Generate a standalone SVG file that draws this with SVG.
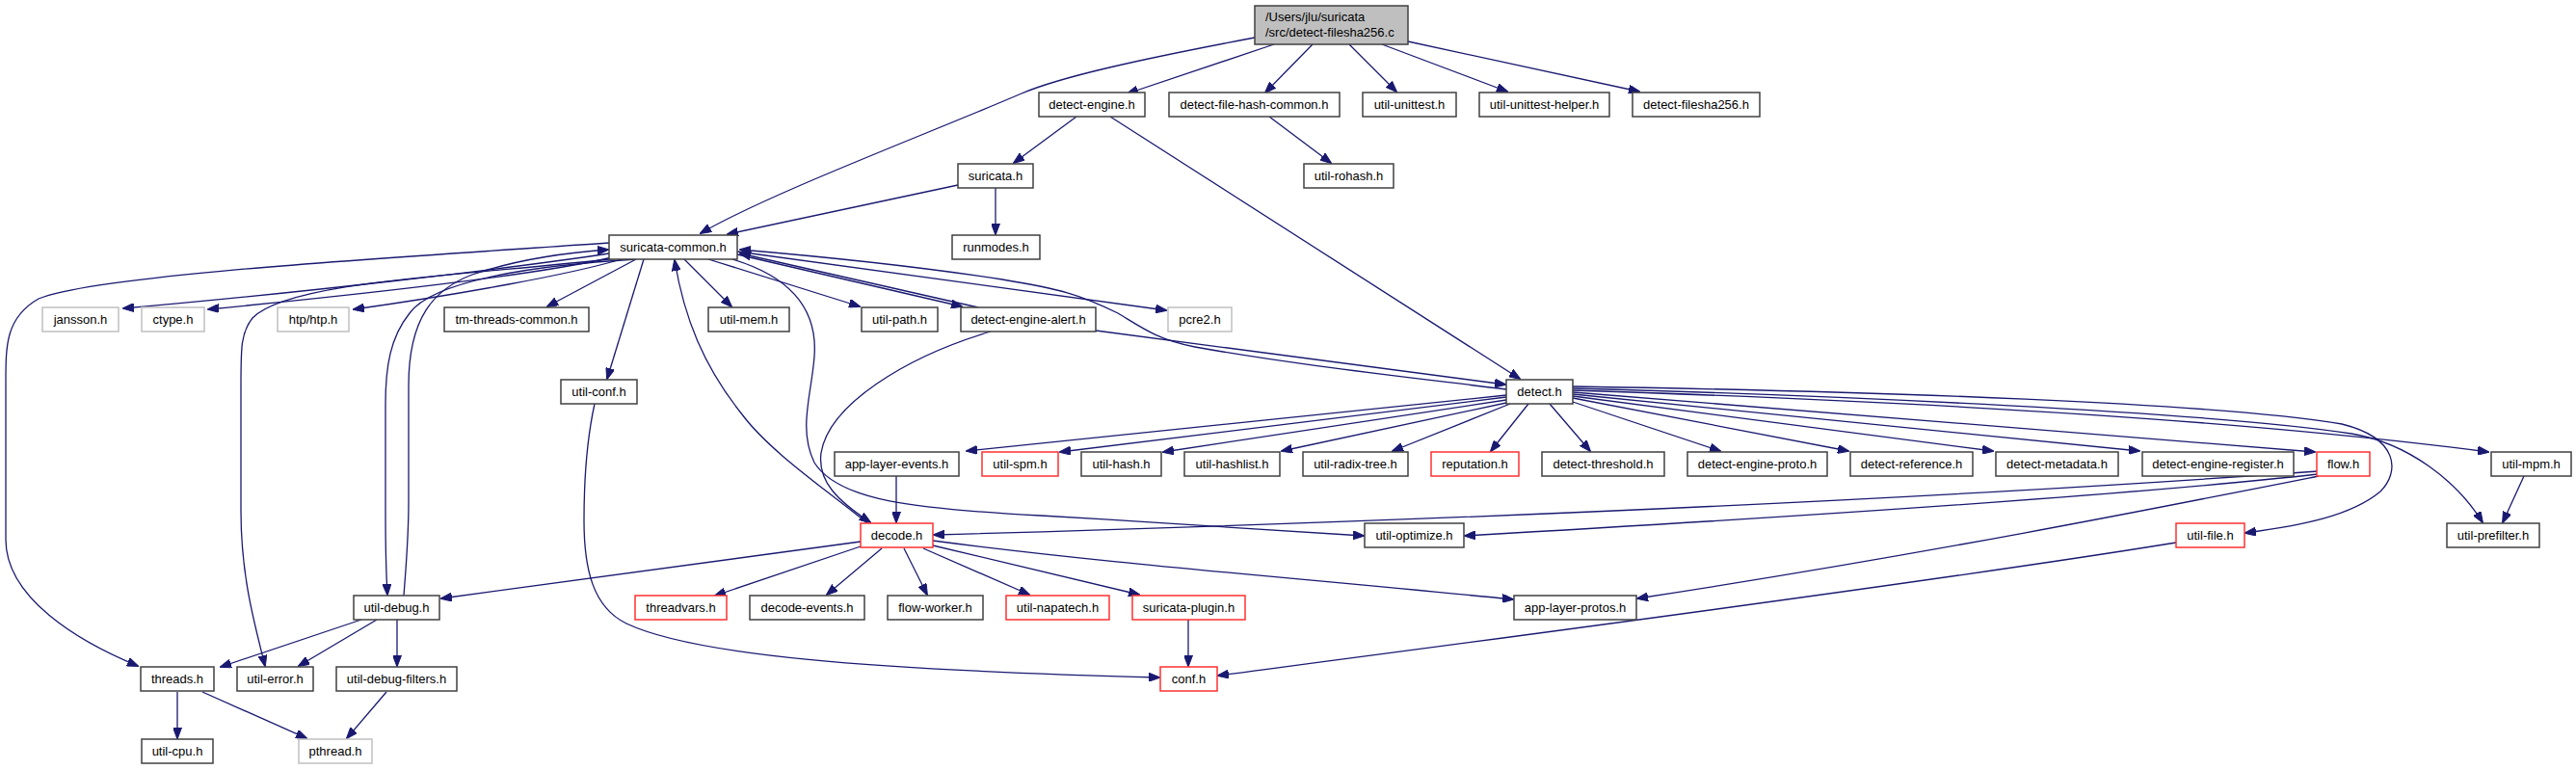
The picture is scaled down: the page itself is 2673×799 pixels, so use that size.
<svg xmlns="http://www.w3.org/2000/svg" width="2673" height="799" viewBox="0 0 2673 799">
<style>
.n rect{fill:#fff;stroke:#404040;stroke-width:1.5}
.n.r rect{stroke:#ff3030}
.n.g rect{stroke:#c0c0c0}
.n.root rect{fill:#bfbfbf}
text{font-family:"Liberation Sans",Arial,sans-serif;font-size:13px;fill:#000}
.n text{text-anchor:middle}
.n.root text{text-anchor:start}
#edges path{fill:none;stroke:#191970;stroke-width:1.3;marker-end:url(#ah)}
</style>
<defs>
<marker id="ah" markerUnits="userSpaceOnUse" viewBox="0 0 12 9" refX="11" refY="4.5" markerWidth="12" markerHeight="9" orient="auto">
<path d="M0,0 L12,4.5 L0,9 z" fill="#191970" stroke="#191970" stroke-width="1"/>
</marker>
</defs>
<rect width="2673" height="799" fill="#fff"/>
<g id="edges">
<path d="M1302,39 C1180,62 1100,80 1060,97 C960,140 800,200 727,242"/>
<path d="M1322,46 L1170,97"/>
<path d="M1362,46 L1313,96"/>
<path d="M1400,46 L1449,95"/>
<path d="M1434,46 L1564,95"/>
<path d="M1461,43 L1701,95"/>
<path d="M1117,121 L1052,169"/>
<path d="M1152,121 L1577,393"/>
<path d="M1317,121 L1381,169"/>
<path d="M994,192 L755,243"/>
<path d="M1033,195 L1033,243"/>
<path d="M632,263 C520,280 300,305 128,320"/>
<path d="M635,267 C560,285 380,305 216,321"/>
<path d="M645,269 C590,285 480,305 367,321"/>
<path d="M660,269 L568,318"/>
<path d="M668,269 L630,393"/>
<path d="M710,269 L759,318"/>
<path d="M735,269 L892,318"/>
<path d="M765,264 L998,318"/>
<path d="M1015,319 L768,263"/>
<path d="M765,261 L1210,322"/>
<path d="M1563,404 C1450,390 1340,378 1240,360 C1200,352 1185,340 1160,325 C1120,305 1100,300 1040,290 C950,276 850,266 768,259"/>
<path d="M632,252 C400,268 100,285 40,310 C5,330 6,360 6,400 L6,560 C6,620 80,665 143,691"/>
<path d="M640,268 C500,285 300,290 262,330 C250,345 250,360 250,400 L250,530 C250,600 265,650 275,691"/>
<path d="M660,269 C560,275 450,290 425,325 C405,350 400,380 400,420 L400,530 C400,580 401,600 402,617"/>
<path d="M419,618 C421,590 424,560 424,520 L424,400 C424,330 450,300 490,285 C540,268 590,262 631,259"/>
<path d="M760,269 C830,290 848,330 845,370 C842,410 828,445 845,480 C870,520 950,528 1080,535 C1200,542 1330,550 1415,556"/>
<path d="M900,543 C860,510 800,470 770,430 C730,380 710,330 700,270"/>
<path d="M1137,343 C1300,365 1450,385 1562,399"/>
<path d="M1028,344 C940,370 860,420 852,470 C848,500 870,520 903,542"/>
<path d="M930,494 L930,542"/>
<path d="M1563,410 L1003,468"/>
<path d="M1563,412 L1100,469"/>
<path d="M1563,415 L1207,469"/>
<path d="M1563,418 L1330,468"/>
<path d="M1567,419 L1445,468"/>
<path d="M1586,419 L1547,468"/>
<path d="M1608,419 L1650,468"/>
<path d="M1632,417 L1785,468"/>
<path d="M1632,413 L1918,468"/>
<path d="M1632,411 L2068,468"/>
<path d="M1632,409 L2220,468"/>
<path d="M1632,407 L2402,469"/>
<path d="M1632,405 C2100,420 2400,445 2582,469"/>
<path d="M1632,403 C1900,410 2300,428 2440,450 C2500,460 2550,500 2576,542"/>
<path d="M1632,401 C1950,406 2300,418 2430,440 C2490,455 2490,490 2470,510 C2440,535 2390,545 2330,553"/>
<path d="M2405,489 C2000,518 1500,540 969,555"/>
<path d="M2405,492 C2200,515 1800,540 1520,556"/>
<path d="M2406,494 C2250,525 2000,575 1699,621"/>
<path d="M2619,494 L2597,542"/>
<path d="M2258,563 C2000,605 1500,670 1264,701"/>
<path d="M893,562 L458,621"/>
<path d="M893,567 L742,618"/>
<path d="M915,569 L858,617"/>
<path d="M938,569 L962,617"/>
<path d="M958,569 L1068,617"/>
<path d="M968,566 L1182,617"/>
<path d="M968,561 C1150,585 1350,600 1570,622"/>
<path d="M1233,643 L1233,691"/>
<path d="M617,419 C608,460 606,500 606,540 C606,590 615,630 650,647 C720,680 900,695 1203,703"/>
<path d="M375,643 L229,692"/>
<path d="M391,643 L310,691"/>
<path d="M412,643 L412,691"/>
<path d="M184,718 L184,766"/>
<path d="M210,718 L318,766"/>
<path d="M401,718 L360,766"/>
</g>
<g id="n_root" class="n root"><rect x="1302" y="6" width="159" height="40"/><text x="1313" y="22">/Users/jlu/suricata</text><text x="1313" y="38">/src/detect-filesha256.c</text></g>
<g id="n_detect_engine" class="n"><rect x="1078" y="96" width="110" height="25"/><text x="1133" y="113">detect-engine.h</text></g>
<g id="n_dfhc" class="n"><rect x="1213" y="96" width="177" height="25"/><text x="1301.5" y="113">detect-file-hash-common.h</text></g>
<g id="n_util_unittest" class="n"><rect x="1414" y="96" width="97" height="25"/><text x="1462.5" y="113">util-unittest.h</text></g>
<g id="n_util_unittest_helper" class="n"><rect x="1535" y="96" width="135" height="25"/><text x="1602.5" y="113">util-unittest-helper.h</text></g>
<g id="n_detect_filesha256" class="n"><rect x="1694" y="96" width="132" height="25"/><text x="1760" y="113">detect-filesha256.h</text></g>
<g id="n_suricata" class="n"><rect x="994" y="170" width="78" height="25"/><text x="1033" y="187">suricata.h</text></g>
<g id="n_util_rohash" class="n"><rect x="1353" y="170" width="93" height="25"/><text x="1399.5" y="187">util-rohash.h</text></g>
<g id="n_suricata_common" class="n"><rect x="632" y="244" width="133" height="25"/><text x="698.5" y="261">suricata-common.h</text></g>
<g id="n_runmodes" class="n"><rect x="988" y="244" width="91" height="25"/><text x="1033.5" y="261">runmodes.h</text></g>
<g id="n_jansson" class="n g"><rect x="44" y="319" width="79" height="25"/><text x="83.5" y="336">jansson.h</text></g>
<g id="n_ctype" class="n g"><rect x="147" y="319" width="65" height="25"/><text x="179.5" y="336">ctype.h</text></g>
<g id="n_htp" class="n g"><rect x="288" y="319" width="74" height="25"/><text x="325" y="336">htp/htp.h</text></g>
<g id="n_tm_threads_common" class="n"><rect x="461" y="319" width="150" height="25"/><text x="536" y="336">tm-threads-common.h</text></g>
<g id="n_util_mem" class="n"><rect x="735" y="319" width="84" height="25"/><text x="777" y="336">util-mem.h</text></g>
<g id="n_util_path" class="n"><rect x="894" y="319" width="79" height="25"/><text x="933.5" y="336">util-path.h</text></g>
<g id="n_detect_engine_alert" class="n"><rect x="997" y="319" width="140" height="25"/><text x="1067" y="336">detect-engine-alert.h</text></g>
<g id="n_pcre2" class="n g"><rect x="1212" y="319" width="66" height="25"/><text x="1245" y="336">pcre2.h</text></g>
<g id="n_util_conf" class="n"><rect x="582" y="394" width="79" height="25"/><text x="621.5" y="411">util-conf.h</text></g>
<g id="n_detect" class="n"><rect x="1563" y="394" width="69" height="25"/><text x="1597.5" y="411">detect.h</text></g>
<g id="n_app_layer_events" class="n"><rect x="866" y="469" width="129" height="25"/><text x="930.5" y="486">app-layer-events.h</text></g>
<g id="n_util_spm" class="n r"><rect x="1019" y="469" width="79" height="25"/><text x="1058.5" y="486">util-spm.h</text></g>
<g id="n_util_hash" class="n"><rect x="1122" y="469" width="83" height="25"/><text x="1163.5" y="486">util-hash.h</text></g>
<g id="n_util_hashlist" class="n"><rect x="1229" y="469" width="99" height="25"/><text x="1278.5" y="486">util-hashlist.h</text></g>
<g id="n_util_radix_tree" class="n"><rect x="1352" y="469" width="109" height="25"/><text x="1406.5" y="486">util-radix-tree.h</text></g>
<g id="n_reputation" class="n r"><rect x="1485" y="469" width="91" height="25"/><text x="1530.5" y="486">reputation.h</text></g>
<g id="n_detect_threshold" class="n"><rect x="1600" y="469" width="127" height="25"/><text x="1663.5" y="486">detect-threshold.h</text></g>
<g id="n_detect_engine_proto" class="n"><rect x="1751" y="469" width="145" height="25"/><text x="1823.5" y="486">detect-engine-proto.h</text></g>
<g id="n_detect_reference" class="n"><rect x="1920" y="469" width="127" height="25"/><text x="1983.5" y="486">detect-reference.h</text></g>
<g id="n_detect_metadata" class="n"><rect x="2071" y="469" width="127" height="25"/><text x="2134.5" y="486">detect-metadata.h</text></g>
<g id="n_detect_engine_register" class="n"><rect x="2223" y="469" width="157" height="25"/><text x="2301.5" y="486">detect-engine-register.h</text></g>
<g id="n_flow" class="n r"><rect x="2404" y="469" width="55" height="25"/><text x="2431.5" y="486">flow.h</text></g>
<g id="n_util_mpm" class="n"><rect x="2585" y="469" width="83" height="25"/><text x="2626.5" y="486">util-mpm.h</text></g>
<g id="n_decode" class="n r"><rect x="893" y="543" width="75" height="25"/><text x="930.5" y="560">decode.h</text></g>
<g id="n_util_optimize" class="n"><rect x="1416" y="543" width="103" height="25"/><text x="1467.5" y="560">util-optimize.h</text></g>
<g id="n_util_file" class="n r"><rect x="2258" y="543" width="71" height="25"/><text x="2293.5" y="560">util-file.h</text></g>
<g id="n_util_prefilter" class="n"><rect x="2539" y="543" width="96" height="25"/><text x="2587" y="560">util-prefilter.h</text></g>
<g id="n_util_debug" class="n"><rect x="367" y="618" width="89" height="25"/><text x="411.5" y="635">util-debug.h</text></g>
<g id="n_threadvars" class="n r"><rect x="659" y="618" width="95" height="25"/><text x="706.5" y="635">threadvars.h</text></g>
<g id="n_decode_events" class="n"><rect x="778" y="618" width="119" height="25"/><text x="837.5" y="635">decode-events.h</text></g>
<g id="n_flow_worker" class="n"><rect x="921" y="618" width="99" height="25"/><text x="970.5" y="635">flow-worker.h</text></g>
<g id="n_util_napatech" class="n r"><rect x="1044" y="618" width="107" height="25"/><text x="1097.5" y="635">util-napatech.h</text></g>
<g id="n_suricata_plugin" class="n r"><rect x="1175" y="618" width="117" height="25"/><text x="1233.5" y="635">suricata-plugin.h</text></g>
<g id="n_app_layer_protos" class="n"><rect x="1571" y="618" width="127" height="25"/><text x="1634.5" y="635">app-layer-protos.h</text></g>
<g id="n_threads" class="n"><rect x="146" y="692" width="76" height="25"/><text x="184" y="709">threads.h</text></g>
<g id="n_util_error" class="n"><rect x="246" y="692" width="79" height="25"/><text x="285.5" y="709">util-error.h</text></g>
<g id="n_util_debug_filters" class="n"><rect x="349" y="692" width="125" height="25"/><text x="411.5" y="709">util-debug-filters.h</text></g>
<g id="n_conf" class="n r"><rect x="1204" y="692" width="59" height="25"/><text x="1233.5" y="709">conf.h</text></g>
<g id="n_util_cpu" class="n"><rect x="147" y="767" width="74" height="25"/><text x="184" y="784">util-cpu.h</text></g>
<g id="n_pthread" class="n g"><rect x="310" y="767" width="76" height="25"/><text x="348" y="784">pthread.h</text></g>
</svg>
